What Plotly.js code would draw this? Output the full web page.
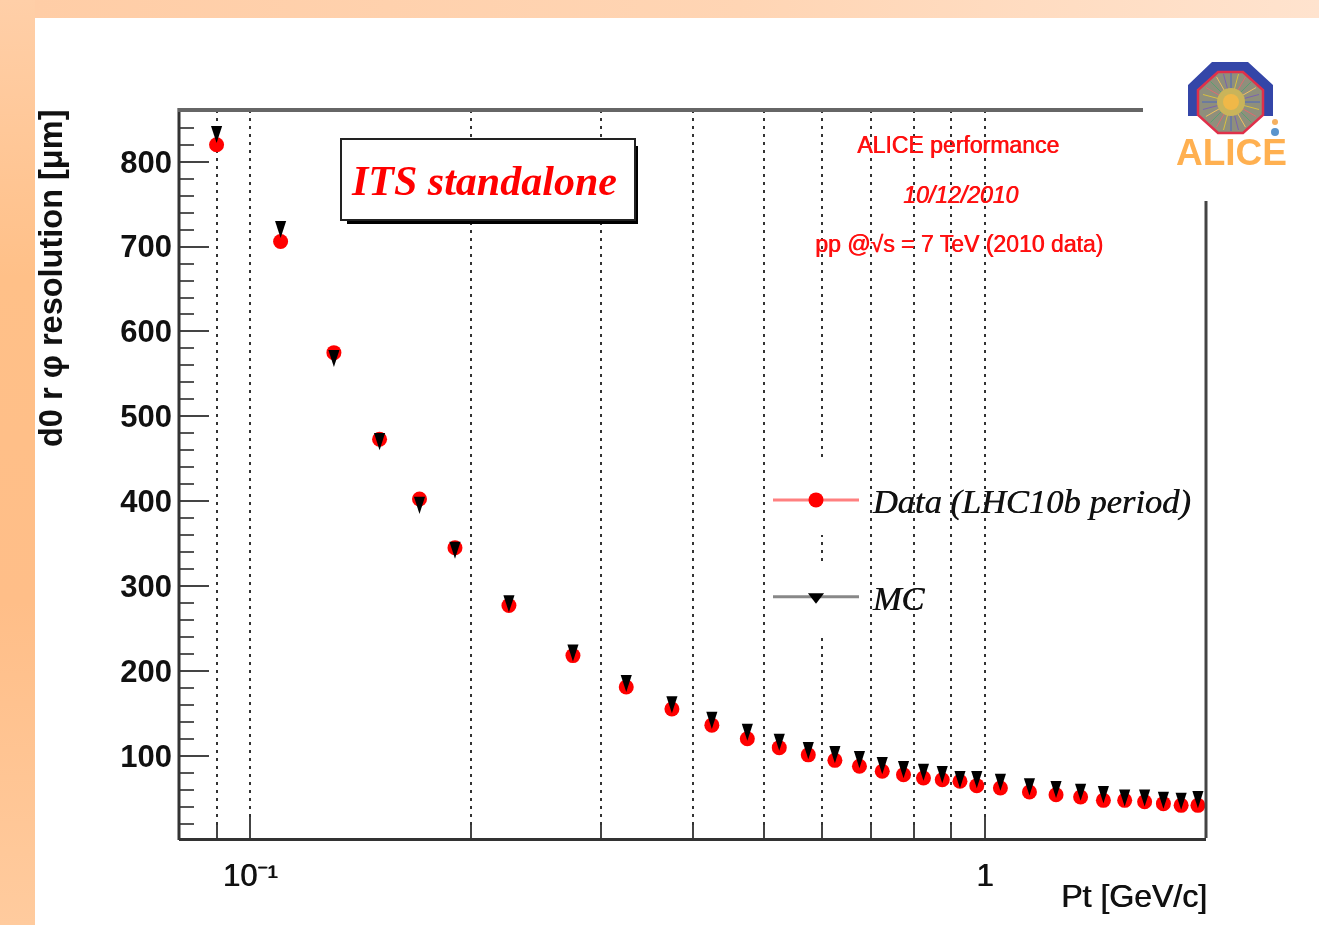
<!DOCTYPE html>
<html><head><meta charset="utf-8">
<script src="https://cdn.plot.ly/plotly-3.0.1.min.js"></script>
<style>
html,body{margin:0;padding:0;width:1319px;height:925px;overflow:hidden;background:#fff}
#left{position:absolute;left:0;top:0;width:35px;height:925px;background:linear-gradient(180deg,#FFCFA8 0%,#FFC088 30%,#FFBE88 65%,#FFCB9E 100%)}
#topb{position:absolute;left:35px;top:0;width:1284px;height:18px;background:linear-gradient(90deg,#FFCDA6 0%,#FFD5B4 55%,#FFE3CE 100%)}
#plot{position:absolute;left:0;top:0;width:1319px;height:925px;filter:blur(0.7px)}
</style></head><body>
<div id="left"></div><div id="topb"></div><div id="plot"></div>
<script>
const pt = [0.09,0.11,0.13,0.15,0.17,0.19,0.225,0.275,0.325,0.375,0.425,0.475,0.525,0.575,0.625,0.675,0.725,0.775,0.825,0.875,0.925,0.975,1.05,1.15,1.25,1.35,1.45,1.55,1.65,1.75,1.85,1.95];
const dataRes = [820,706,575,473,402.5,345,277,218,181,155,136,120,109.5,101,94.5,87.5,81.6,77.6,73.7,71.7,69.8,64.7,61.9,57.2,54,51.3,47.4,47.4,45.8,43.5,41.5,41.5];
const mcRes = [832,720,568,470,395,342,279,221,185,160,141.6,127.5,115.7,105.9,101.2,95.3,88.2,83.5,80.4,77.6,71.7,71.7,68.6,63.1,60,56.8,54,50.1,50.1,47.4,46.2,48.2];
const majorTicks = [0.1,1];
const majorTickText = ['10⁻¹','1'];
const minorTicks = [0.09,0.2,0.3,0.4,0.5,0.6,0.7,0.8,0.9];
const legendNames = ['\u00A0Data (LHC10b period)','\u00A0MC'];

const L=179,R=1206,T=110,B=838;
const px=x=>(x-L)/(R-L), py=y=>(B-y)/(B-T);
const poly=(pts)=>'M'+pts.map(p=>px(p[0])+','+py(p[1])).join(' L')+' Z';
const pshape=(pts,fill,extra)=>Object.assign({type:'path',xref:'paper',yref:'paper',path:poly(pts),fillcolor:fill,line:{width:0}},extra||{});
const rect=(x0,y0,x1,y1,fill,line)=>({type:'rect',xref:'paper',yref:'paper',x0:px(x0),x1:px(x1),y0:py(y0),y1:py(y1),fillcolor:fill,line:line||{width:0}});
const seg=(x0,y0,x1,y1,color,w)=>({type:'line',xref:'paper',yref:'paper',x0:px(x0),x1:px(x1),y0:py(y0),y1:py(y1),line:{color:color,width:w}});
const circ=(cx,cy,r,fill)=>({type:'circle',xref:'paper',yref:'paper',x0:px(cx-r),x1:px(cx+r),y0:py(cy+r),y1:py(cy-r),fillcolor:fill,line:{width:0}});
const note=(text,x,y,font,opts)=>Object.assign({text:text,xref:'paper',yref:'paper',x:px(x),y:py(y),xanchor:'center',yanchor:'middle',showarrow:false,font:font},opts||{});

const circleM={symbol:'circle',size:15,color:'#ff0000',line:{width:0}};
const arrowM={symbol:'arrow',angle:180,size:18,color:'#000000',line:{width:0}};
const triM={symbol:'triangle-down',size:14,color:'#000000',line:{width:0}};
const traces=[
 {x:pt,y:dataRes,mode:'markers',marker:circleM,showlegend:false,name:legendNames[0]},
 {x:pt,y:mcRes,yaxis:'y2',mode:'markers',marker:arrowM,showlegend:false,name:legendNames[1]},
 {x:[null],y:[null],mode:'lines+markers',marker:circleM,line:{color:'#ff8080',width:3},name:legendNames[0],legendgroup:'a'},
 {x:[null],y:[null],mode:'lines+markers',marker:triM,line:{color:'#888888',width:3},name:legendNames[1],legendgroup:'b'}
];

const rays=[];
const rayColors=['#4a66c0','#d8c040','#e06a70','#5aa070','#f0c060','#7a62b0'];
for(let i=0;i<24;i++){const a=i*Math.PI/12;rays.push(seg(1231,102,1231+29*Math.cos(a),102+29*Math.sin(a),rayColors[i%6],1));}

const shapes=[
 seg(L,T-2,L,B+2,'#333333',3),
 seg(L-1,T,1143,T,'#666666',4),
 seg(R,201,R,B,'#444444',3),
 rect(815,462,830,535,'#ffffff'),
 rect(815,562,830,635,'#ffffff'),
 rect(347,146,638,224,'#000000'),
 rect(341,139,635,220,'#ffffff',{color:'#222222',width:2}),
 pshape([[1188,116],[1188,85],[1212,62],[1248,62],[1273,85],[1273,116],[1263,116],[1263,90],[1243,72],[1218,72],[1198,90],[1198,116]],'#3446a8'),
 pshape([[1218,72],[1243,72],[1263,90],[1263,115],[1243,133],[1218,133],[1198,115],[1198,90]],'#8f8f7c',{line:{color:'#e0304a',width:2.5}}),
 ...rays,
 circ(1231,102,14,'#c9b45a'),
 circ(1231,102,8,'#f0b848'),
 circ(1275,122,3,'#f5b060'),
 circ(1275,132,4,'#5a94cc')
];

const redShadow='0.7px 0 0 #ff1010';
const blkShadow='0.7px 0 0 #111111';
const annotations=[
 note('ITS standalone',484,181,{family:'Liberation Serif',size:42,color:'#ff0000',style:'italic',weight:'bold'}),
 note('ALICE performance',958,145,{family:'Liberation Sans',size:23,color:'#ff1010',shadow:redShadow}),
 note('10/12/2010',960,195,{family:'Liberation Sans',size:23,color:'#ff1010',style:'italic',shadow:redShadow}),
 note('pp @√s = 7 TeV (2010 data)',959,244,{family:'Liberation Sans',size:23,color:'#ff1010',shadow:redShadow}),
 note('ALICE',1231,152,{family:'Liberation Sans',size:37,color:'#ffb050',weight:'bold'}),
 note('d0 r φ resolution [μm]',51,279,{family:'Liberation Sans',size:32.5,color:'#111111',weight:'bold'},{textangle:-90}),
 note('Pt [GeV/c]',1134,896,{family:'Liberation Sans',size:32,color:'#111111',shadow:blkShadow})
];

const layout={
 width:1319,height:925,
 margin:{l:L,r:1319-R,t:T,b:925-B,pad:0},
 paper_bgcolor:'rgba(0,0,0,0)',plot_bgcolor:'#ffffff',
 showlegend:true,
 legend:{x:(768-L)/(R-L),y:(B-471)/(B-T),xanchor:'left',yanchor:'top',bgcolor:'rgba(0,0,0,0)',borderwidth:0,
   itemwidth:86,tracegroupgap:49,itemsizing:'trace',traceorder:'grouped',
   font:{family:'Liberation Serif',size:34.5,color:'#111111',style:'italic',shadow:'0.5px 0 0 #111111'}},
 xaxis:{type:'log',range:[Math.log10(0.08),Math.log10(2)],
   tickmode:'array',tickvals:majorTicks,ticktext:majorTickText,
   ticks:'inside',ticklen:21,tickwidth:2,tickcolor:'#444444',
   showgrid:true,griddash:'3px,5px',gridcolor:'#333333',gridwidth:2,
   minor:{tickmode:'array',tickvals:minorTicks,ticks:'inside',ticklen:13,tickwidth:2,tickcolor:'#444444',showgrid:true,griddash:'3px,5px',gridcolor:'#333333',gridwidth:2},
   showline:true,linecolor:'#333333',linewidth:3,zeroline:false,
   tickfont:{family:'Liberation Sans',size:31,color:'#111111',shadow:blkShadow},ticklabelstandoff:8},
 yaxis:{range:[3,861],tickmode:'linear',tick0:0,dtick:100,
   ticks:'inside',ticklen:30,tickwidth:2,tickcolor:'#444444',
   minor:{dtick:20,ticks:'inside',ticklen:15,tickwidth:2,tickcolor:'#555555',showgrid:false},
   showgrid:false,showline:false,zeroline:false,
   tickfont:{family:'Liberation Sans',size:31,color:'#111111',weight:'bold'},ticklabelstandoff:6},
 yaxis2:{overlaying:'y',range:[13,871],visible:false,showgrid:false,zeroline:false},
 shapes:shapes,annotations:annotations
};
Plotly.newPlot('plot',traces,layout,{displayModeBar:false,staticPlot:true});
</script></body></html>
